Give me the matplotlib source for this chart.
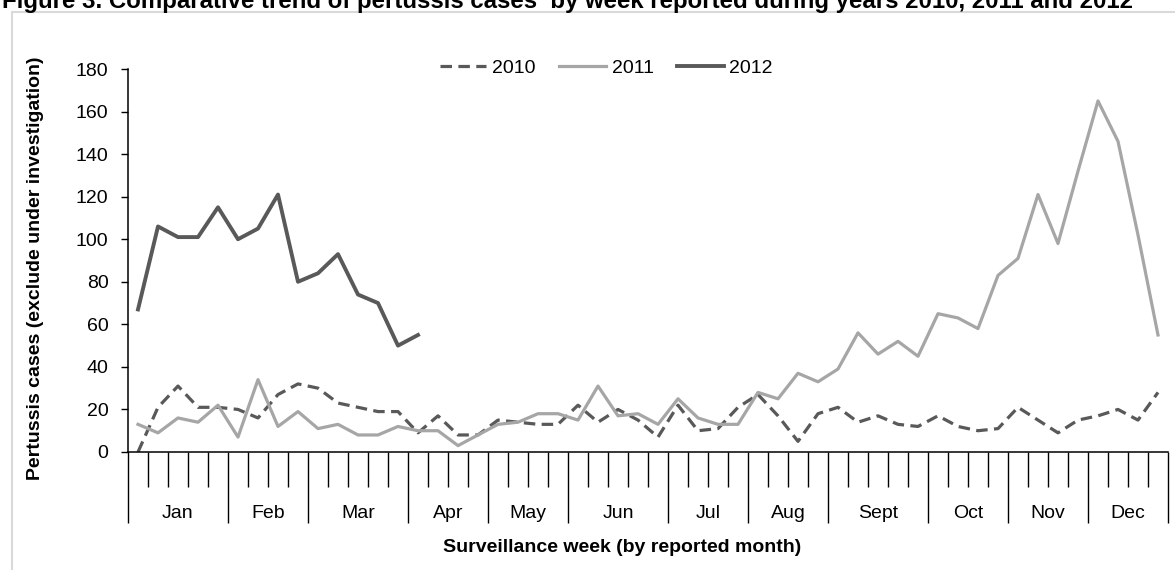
import matplotlib
matplotlib.use("Agg")
import matplotlib.pyplot as plt
from matplotlib.lines import Line2D
import numpy as np

# данные по неделям (52 недели)
cases_2010 = [0, 21, 31, 21, 21, 20, 16, 27, 32, 30, 23, 21, 19, 19, 9, 17, 8, 8, 15,
              14, 13, 13, 22, 14, 20, 15, 7, 22, 10, 11, 21, 27, 17, 5, 18, 21, 14, 17,
              13, 12, 17, 12, 10, 11, 21, 15, 9, 15, 17, 20, 15, 28]
cases_2011 = [13, 9, 16, 14, 22, 7, 34, 12, 19, 11, 13, 8, 8, 12, 10, 10, 3, 8, 13,
              14, 18, 18, 15, 31, 17, 18, 13, 25, 16, 13, 13, 28, 25, 37, 33, 39, 56, 46,
              52, 45, 65, 63, 58, 83, 91, 121, 98, 132, 165, 146, 102, 55]
cases_2012 = [67, 106, 101, 101, 115, 100, 105, 121, 80, 84, 93, 74, 70, 50, 55]

months = ["Jan", "Feb", "Mar", "Apr", "May", "Jun", "Jul", "Aug", "Sept", "Oct", "Nov", "Dec"]
weeks_per_month = [5, 4, 5, 4, 4, 5, 4, 4, 5, 4, 4, 4]
y_ticks = list(range(0, 181, 20))

W, H = 1175, 570
fig = plt.figure(figsize=(W / 100, H / 100), dpi=100)
plt.rcParams['font.family'] = ['Liberation Sans', 'DejaVu Sans']

ax_left, ax_right, ax_bottom, ax_top = 128, 1168, 452, 69
ax = fig.add_axes([ax_left / W, 1 - ax_bottom / H, (ax_right - ax_left) / W, (ax_bottom - ax_top) / H])

n_weeks = sum(weeks_per_month)
x10 = np.arange(len(cases_2010)) + 0.5
x11 = np.arange(len(cases_2011)) + 0.5
x12 = np.arange(len(cases_2012)) + 0.5

ax.plot(x10, cases_2010, color='#595959', lw=2.3, dashes=(3.6, 2.0), label='2010')
ax.plot(x11, cases_2011, color='#a6a6a6', lw=2.3, label='2011')
ax.plot(x12, cases_2012, color='#595959', lw=2.8, label='2012')

ax.set_xlim(0, n_weeks)
ax.set_ylim(0, 180)
ax.set_yticks(y_ticks)
ax.tick_params(axis='y', length=5, width=1, pad=9, labelsize=14)

# границы месяцев - длинные тики, недели - короткие
bounds = np.concatenate([[0], np.cumsum(weeks_per_month)])
ax.set_xticks(bounds)
ax.set_xticklabels([])
ax.set_xticks([w for w in range(n_weeks + 1) if w not in bounds], minor=True)
ax.tick_params(axis='x', which='major', length=51, width=1, direction='out')
ax.tick_params(axis='x', which='minor', length=25, width=1, direction='out')

centers = (bounds[:-1] + bounds[1:]) / 2
for c, m in zip(centers, months):
    ax.annotate(m, xy=(c, 0), xycoords=('data', 'axes fraction'), xytext=(0, -44),
                textcoords='offset points', ha='center', va='center', fontsize=14)

for s in ['top', 'right']:
    ax.spines[s].set_visible(False)
ax.spines['left'].set_linewidth(1.1)
ax.spines['bottom'].set_linewidth(1.1)

ax.legend(loc='center', bbox_to_anchor=(0.46, 1.003), ncol=3, frameon=False, fontsize=14,
          handlelength=2.4, handletextpad=0.3, columnspacing=1.2)

fig.text(36 / W, 1 - 268 / H, "Pertussis cases (exclude under investigation)", rotation=90,
         ha='center', va='center', fontsize=14, fontweight='bold')
fig.text(622 / W, 1 - 548 / H, "Surveillance week (by reported month)",
         ha='center', va='center', fontsize=14, fontweight='bold')

# заголовок обрезан сверху, как в оригинале
fig.text(2 / W, 1 - 8 / H,
         "Figure 3. Comparative trend of pertussis cases  by week reported during years 2010, 2011 and 2012",
         ha='left', va='baseline', fontsize=17.3, fontweight='bold')

# рамка области диаграммы
fig.add_artist(Line2D([12 / W, 12 / W], [0, 1 - 12 / H], color='#d9d9d9', lw=1.5))
fig.add_artist(Line2D([12 / W, 1], [1 - 12 / H, 1 - 12 / H], color='#d9d9d9', lw=1.5))

fig.savefig("out.png", dpi=100)
